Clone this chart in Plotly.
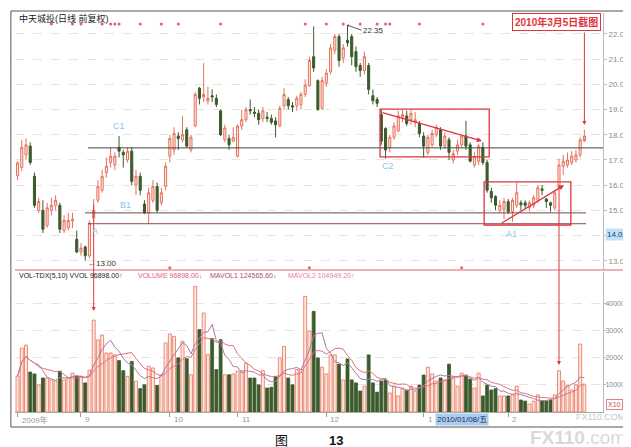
import pandas as pd
import plotly.graph_objs as go
from plotly.subplots import make_subplots

# Daily candles, 中天城投 2009/08 - 2010/03/05
opens = [16.37, 16.7, 17.2, 17.55, 16.35, 15.0, 15.0, 14.4, 15.0, 15.2,
         15.2, 14.2, 14.3, 14.58, 13.85, 13.35, 13.55, 13.2, 14.7, 15.4,
         15.8, 16.5, 16.9, 16.8, 17.5, 17.3, 17.0, 17.35, 16.0, 16.35,
         15.25, 14.9, 15.4, 15.95, 15.3, 15.95, 17.15, 17.4, 17.95, 17.8,
         18.2, 17.4, 18.35, 19.85, 19.5, 19.35, 19.55, 19.45, 18.95, 17.8,
         17.85, 17.75, 17.15, 18.35, 18.6, 19.0, 18.9, 18.85, 18.65, 18.7,
         18.65, 18.55, 18.35, 19.15, 19.4, 19.15, 19.15, 19.2, 19.6, 19.95,
         21.1, 20.15, 19.05, 20.05, 20.5, 21.35, 21.9, 21.05, 21.75, 21.9,
         21.3, 20.75, 20.55, 20.75, 19.55, 19.4, 18.8, 18.25, 17.5, 17.9,
         18.15, 18.7, 18.75, 18.6, 18.5, 18.45, 17.95, 17.3, 17.6, 18.0,
         18.2, 17.55, 17.8, 17.0, 17.35, 17.6, 17.95, 17.6, 16.8, 16.95,
         17.5, 16.9, 15.75, 15.55, 15.0, 15.05, 15.35, 14.95, 15.2, 15.3,
         15.3, 15.1, 15.2, 15.4, 15.85, 15.45, 15.3, 15.1, 15.9, 16.75,
         16.8, 16.9, 17.0, 17.2, 17.75]
highs = [16.95, 17.8, 17.85, 17.7, 16.5, 15.5, 15.4, 15.3, 15.5, 15.6,
         15.3, 14.8, 14.9, 14.9, 14.2, 13.7, 13.6, 14.6, 15.45, 16.2,
         16.6, 17.1, 17.5, 17.3, 17.95, 17.4, 17.5, 17.5, 16.6, 16.5,
         15.4, 15.9, 16.2, 16.1, 15.9, 16.9, 18.0, 18.3, 18.1, 18.75,
         18.3, 18.0, 19.7, 19.9, 20.85, 19.9, 19.8, 19.6, 19.0, 18.4,
         18.0, 18.3, 18.4, 19.0, 19.1, 19.4, 19.1, 19.0, 19.1, 18.9,
         18.8, 18.7, 19.15, 19.85, 19.5, 19.3, 19.55, 19.7, 20.2, 21.1,
         22.3, 20.2, 20.3, 20.6, 21.6, 22.0, 22.0, 21.6, 22.35, 22.0,
         21.5, 20.85, 21.3, 20.85, 19.8, 19.5, 19.0, 18.3, 18.0, 18.5,
         18.95, 19.0, 18.95, 19.0, 18.9, 18.55, 18.1, 18.0, 18.2, 18.4,
         18.3, 18.1, 17.9, 17.4, 17.8, 18.0, 18.55, 17.7, 17.3, 17.65,
         17.7, 17.0, 15.9, 15.6, 15.4, 15.5, 15.45, 15.5, 16.1, 15.4,
         15.4, 15.4, 15.6, 16.0, 16.0, 15.5, 15.35, 15.8, 17.05, 17.2,
         17.3, 17.35, 17.4, 17.9, 18.2]
lows = [16.2, 16.55, 17.0, 16.8, 15.1, 14.9, 14.1, 14.3, 14.8, 15.0,
        14.1, 14.1, 14.2, 14.3, 13.3, 13.2, 13.0, 13.1, 14.55, 15.3,
        15.7, 16.3, 16.7, 16.6, 17.1, 16.7, 16.9, 16.0, 15.6, 15.6,
        14.85, 14.45, 15.3, 14.9, 15.2, 15.8, 16.9, 17.2, 17.4, 17.7,
        17.5, 17.3, 18.3, 19.2, 19.3, 19.2, 19.3, 19.1, 17.95, 17.7,
        17.4, 17.7, 17.1, 18.2, 18.5, 18.8, 18.7, 18.4, 18.5, 18.5,
        18.4, 17.9, 18.3, 19.0, 19.0, 18.9, 18.95, 19.0, 19.5, 19.9,
        20.5, 18.95, 19.0, 19.9, 20.4, 21.2, 20.7, 20.85, 21.5, 20.75,
        20.5, 20.3, 20.4, 19.6, 19.2, 19.1, 17.6, 17.05, 17.3, 17.8,
        18.1, 18.5, 18.35, 18.4, 18.3, 17.9, 17.1, 17.2, 17.5, 17.9,
        17.4, 17.45, 17.0, 16.85, 17.2, 17.5, 17.4, 16.9, 16.7, 16.8,
        16.8, 15.7, 15.3, 15.0, 14.9, 14.65, 14.85, 14.55, 15.1, 15.0,
        15.05, 14.95, 15.1, 15.3, 15.6, 15.1, 14.95, 15.0, 15.85, 16.4,
        16.7, 16.8, 16.9, 17.1, 17.85]
closes = [16.88, 17.5, 17.6, 16.9, 15.2, 15.35, 14.25, 15.1, 15.2, 15.4,
          14.25, 14.6, 14.6, 14.65, 13.35, 13.5, 13.2, 14.5, 15.0, 15.95,
          16.35, 16.75, 17.15, 17.15, 17.35, 17.2, 17.35, 16.15, 16.35, 15.8,
          14.9, 15.7, 15.95, 15.0, 15.7, 16.75, 17.85, 18.05, 17.85, 18.0,
          17.55, 17.9, 19.6, 19.45, 19.6, 19.45, 19.5, 19.2, 18.0, 18.27,
          17.6, 17.9, 18.35, 18.6, 19.0, 18.95, 18.85, 18.6, 18.95, 18.65,
          18.5, 18.4, 19.05, 19.6, 19.15, 19.1, 19.45, 19.6, 19.97, 20.95,
          20.65, 19.0, 20.15, 20.45, 21.45, 21.9, 20.95, 21.45, 21.65, 21.1,
          20.7, 20.55, 21.1, 19.8, 19.35, 19.25, 17.75, 17.4, 17.9, 18.35,
          18.75, 18.8, 18.45, 18.85, 18.6, 18.05, 17.55, 17.9, 18.05, 18.3,
          17.55, 17.95, 17.3, 17.25, 17.6, 17.95, 17.55, 16.95, 17.15, 17.55,
          16.9, 15.8, 15.5, 15.2, 15.2, 15.35, 14.95, 15.4, 15.7, 15.22,
          15.2, 15.3, 15.5, 15.9, 15.8, 15.35, 15.2, 15.7, 16.8, 16.95,
          17.0, 17.15, 17.2, 17.8, 17.95]
volumes = [13200, 23500, 24600, 14700, 14000, 9900, 12500, 12500, 11800, 11400,
           15000, 11800, 12500, 14300, 13200, 13200, 10700, 15400, 33800, 26500,
           28300, 21700, 21700, 21000, 18900, 15200, 13100, 18600, 11300, 8600,
           10000, 16800, 16200, 9800, 13700, 25400, 28700, 27800, 19900, 26000,
           19600, 13700, 46200, 30300, 36400, 21100, 27000, 15600, 26600, 13700,
           13700, 14000, 15000, 15200, 18000, 12500, 12500, 10000, 15200, 8800,
           9100, 13100, 19900, 24100, 12500, 10000, 15600, 15600, 42500, 29700,
           37000, 19900, 16500, 14000, 21000, 21000, 17600, 11800, 19500, 11800,
           10700, 7700, 9500, 21000, 10700, 7300, 11400, 11800, 7000, 9500,
           5900, 8800, 8100, 9500, 7700, 9900, 13600, 16500, 14000, 11400,
           12500, 11800, 17600, 12500, 9500, 14300, 13600, 12100, 8800, 14300,
           5900, 9900, 8100, 8600, 5900, 5900, 5900, 6300, 9500, 4400,
           4000, 2900, 4000, 6300, 4000, 4000, 4400, 6300, 15200, 11400,
           9900, 8100, 10000, 25000, 10000]

# month labels on the time axis (index of first candle of the month)
month_idx = [1, 16, 37, 53, 74, 97, 117]
month_txt = ['2009年', '9', '10', '11', '12', '1', '2']

# signal dots drawn along the top / bottom of the price window
top_dots = [9, 14, 16, 21, 23, 24, 25, 30, 35, 39, 49, 69, 74, 78, 82, 86, 88, 89, 96, 111]
bottom_dots = [37, 70, 106]

price_ticks = [13, 14, 15, 16, 17, 18, 19, 20, 21, 22]
vol_ticks = [10000, 20000, 30000, 40000]

df = pd.DataFrame({'Open': opens, 'High': highs, 'Low': lows,
                   'Close': closes, 'Volume': volumes})
df['n'] = range(1, len(df) + 1)
df['ma5'] = df['Volume'].rolling(5, min_periods=1).mean()
df['ma10'] = df['Volume'].rolling(10, min_periods=1).mean()

RED = '#e8705e'
RED_FILL = '#fde9dc'
GREEN = '#3c5a2c'
MARK = '#e0353f'
BLUE = '#8cc6e8'

up = df['Close'] >= df['Open']

fig = make_subplots(rows=2, cols=1, shared_xaxes=True, vertical_spacing=0.005)

# Row 1 | candles
fig.add_trace(go.Candlestick(x=df['n'], open=df['Open'], high=df['High'],
                             low=df['Low'], close=df['Close'],
                             increasing=dict(line=dict(color=RED, width=1), fillcolor=RED_FILL),
                             decreasing=dict(line=dict(color=GREEN, width=1), fillcolor=GREEN),
                             whiskerwidth=0, hoverinfo='skip', showlegend=False),
              row=1, col=1)

fig.add_trace(go.Scatter(x=top_dots, y=[22.4] * len(top_dots), mode='markers',
                         marker=dict(size=3, color='#e06070'), showlegend=False,
                         hoverinfo='skip'), row=1, col=1)
fig.add_trace(go.Scatter(x=bottom_dots, y=[12.72] * len(bottom_dots), mode='markers',
                         marker=dict(size=3, color='#e06070'), showlegend=False,
                         hoverinfo='skip'), row=1, col=1)

# Row 2 | volume + MAVOL
fig.add_trace(go.Bar(x=df['n'], y=df['Volume'], width=0.7,
                     marker=dict(color=[RED_FILL if u else GREEN for u in up],
                                 line=dict(color=[RED if u else GREEN for u in up], width=0.8)),
                     showlegend=False, hoverinfo='skip'), row=2, col=1)
fig.add_trace(go.Scatter(x=df['n'], y=df['ma5'], mode='lines',
                         line=dict(color='#a87aa8', width=1), showlegend=False,
                         hoverinfo='skip'), row=2, col=1)
fig.add_trace(go.Scatter(x=df['n'], y=df['ma10'], mode='lines',
                         line=dict(color='#e07080', width=1), showlegend=False,
                         hoverinfo='skip'), row=2, col=1)

XR = [0.4, 139.4]
fig.update_layout(
    width=631, height=447,
    margin=dict(l=7, r=36, t=5, b=43),
    paper_bgcolor='white', plot_bgcolor='white',
    font=dict(family='Liberation Sans, Noto Sans CJK SC', size=8, color='#666'),
    bargap=0.3,
    xaxis=dict(range=XR, showticklabels=False, showgrid=False, zeroline=False,
               rangeslider=dict(visible=False)),
    xaxis2=dict(range=XR, showgrid=False, zeroline=False, showline=True,
                linecolor='#aaa', linewidth=1, tickvals=month_idx,
                ticks='outside', ticklen=4, tickcolor='#999', showticklabels=False),
    yaxis=dict(domain=[0.356, 1], range=[12.635, 22.833], side='right',
               tickvals=price_ticks, tickformat='.2f', ticks='outside', ticklen=3,
               tickcolor='#bbb', showline=True, linecolor='#bbb', zeroline=False,
               gridcolor='#e4e4e4', griddash='dash', tickfont=dict(size=8, color='#8a8a8a')),
    yaxis2=dict(domain=[0, 0.351], range=[0, 51500], side='right',
                tickvals=vol_ticks, ticktext=[str(v) for v in vol_ticks],
                ticks='outside', ticklen=2, tickcolor='#bbb', ticklabelstandoff=-2,
                showline=True, linecolor='#bbb', zeroline=False,
                gridcolor='#e4e4e4', griddash='dash', tickfont=dict(size=7, color='#8a8a8a')),
)

shapes = []
# outer frame and the red divider between the windows
shapes.append(dict(type='rect', xref='paper', yref='paper', x0=-0.007, x1=1.0505,
                   y0=-0.0376, y1=1.005, line=dict(color='#555', width=1)))
shapes.append(dict(type='line', xref='paper', yref='paper', x0=0, x1=1.0505,
                   y0=0.3559, y1=0.3559, line=dict(color='#e06070', width=1)))
# support / resistance lines
shapes.append(dict(type='line', xref='x', yref='y', x0=17.66, x1=139.4, y0=17.48, y1=17.48,
                   line=dict(color='#444', width=1)))
shapes.append(dict(type='line', xref='x', yref='y', x0=16.95, x1=135.4, y0=14.9, y1=14.9,
                   line=dict(color='#6b4a4a', width=1)))
shapes.append(dict(type='line', xref='x', yref='y', x0=17.66, x1=135.4, y0=14.47, y1=14.47,
                   line=dict(color='#8a4a4a', width=1)))
# red boxes
shapes.append(dict(type='rect', xref='x', yref='y', x0=86.7, x1=112.5, y0=17.12, y1=19.02,
                   line=dict(color=MARK, width=1.3)))
shapes.append(dict(type='rect', xref='x', yref='y', x0=111.3, x1=131.8, y0=14.42, y1=16.13,
                   line=dict(color=MARK, width=1.3)))
fig.update_layout(shapes=shapes)

ann = []
def arrow(x, y, ax, ay, xref='x', yref='y', axref='x', ayref='y', width=1.3):
    ann.append(dict(x=x, y=y, ax=ax, ay=ay, xref=xref, yref=yref, axref=axref, ayref=ayref,
                    text='', showarrow=True, arrowhead=2, arrowsize=0.8,
                    arrowwidth=width, arrowcolor=MARK))

# trend arrows inside the boxes
arrow(110.8, 17.75, 86.9, 18.9)
arrow(130.2, 16.0, 115.1, 14.46)
# vertical pointers
arrow(135, 18.39, 0, -94, axref='pixel', ayref='pixel', width=1)
arrow(129, 17300, 0, -182, yref='y2', axref='pixel', ayref='pixel', width=1)
arrow(19, 37100, 0, -108, yref='y2', axref='pixel', ayref='pixel', width=1)

def txt(x, y, s, xref='x', yref='y', color='#333', size=8, xanchor='left', **kw):
    d = dict(x=x, y=y, xref=xref, yref=yref, text=s, showarrow=False,
             xanchor=xanchor, yanchor='middle', font=dict(size=size, color=color))
    d.update(kw)
    ann.append(d)

# headers
txt(0.003, 0.987, '中天城投(日线 前复权)', xref='paper', yref='paper', color='#222', size=9)
txt(0.003, 0.341, 'VOL-TDX(5,10) VVOL 96898.00<span style="color:#e03040">↑</span>',
    xref='paper', yref='paper', color='#222', size=7)
txt(0.206, 0.341, 'VOLUME 96898.00↓', xref='paper', yref='paper', color='#e0607a', size=7)
txt(0.329, 0.341, 'MAVOL1 124565.60↓', xref='paper', yref='paper', color='#b04a78', size=7)
txt(0.461, 0.341, 'MAVOL2 104949.20↑', xref='paper', yref='paper', color='#e8809a', size=7)

# price notes
ann.append(dict(x=79, y=22.35, ax=14, ay=5, xref='x', yref='y', text='22.35',
                showarrow=True, arrowhead=1, arrowsize=0.6, arrowwidth=0.8,
                arrowcolor='#333', xanchor='left', font=dict(size=8, color='#333')))
txt(17.3, 12.9, '←13.00', color='#333')

# pattern labels
txt(25, 18.35, 'C1', color=BLUE, size=9, xanchor='center')
txt(26.6, 15.2, 'B1', color=BLUE, size=9, xanchor='center')
txt(19.3, 14.2, 'A', color=BLUE, size=9, xanchor='center')
txt(88.6, 16.76, 'C2', color=BLUE, size=9, xanchor='center')
txt(117.7, 14.06, 'A1', color=BLUE, size=9, xanchor='center')

# screenshot date box
txt(128.5, 22.46, '<b>2010年3月5日截图</b>', color=MARK, size=10, xanchor='center',
    bordercolor=MARK, borderwidth=1, borderpad=2, bgcolor='white')

# current price tag on the right scale
txt(1.003, 14.05, '14.05', xref='paper', color='#1a3a8a', bgcolor='#bfe3f5', borderpad=1)
txt(1.005, 2600, 'X10', xref='paper', yref='y2', color='#c05050', size=7,
    bordercolor='#e08080', borderwidth=1, borderpad=1)

# time axis labels
for i, m in zip(month_idx, month_txt):
    txt(i, -0.02, m, yref='paper', color='#999', size=8, xshift=2)
txt(106, -0.02, '2010/01/08/五', yref='paper', color='#1a2a6a', size=8,
    xanchor='center', bgcolor='#a9cdea')

# caption and watermark
txt(0.453, -0.071, '图', xref='paper', yref='paper', color='#111', size=13,
    xanchor='center', font_family='Liberation Serif, Noto Sans CJK SC')
txt(0.546, -0.071, '<b>13</b>', xref='paper', yref='paper', color='#111', size=13,
    xanchor='center')
txt(0.957, -0.063, '<b>FX110</b>.com', xref='paper', yref='paper', color='#d9d9d9',
    size=19, xanchor='center')
txt(0.995, -0.012, 'FX110.COM', xref='paper', yref='paper', color='#c8c8c8',
    size=9, xanchor='center')

fig.update_layout(annotations=ann)

fig.write_html("out.html")
